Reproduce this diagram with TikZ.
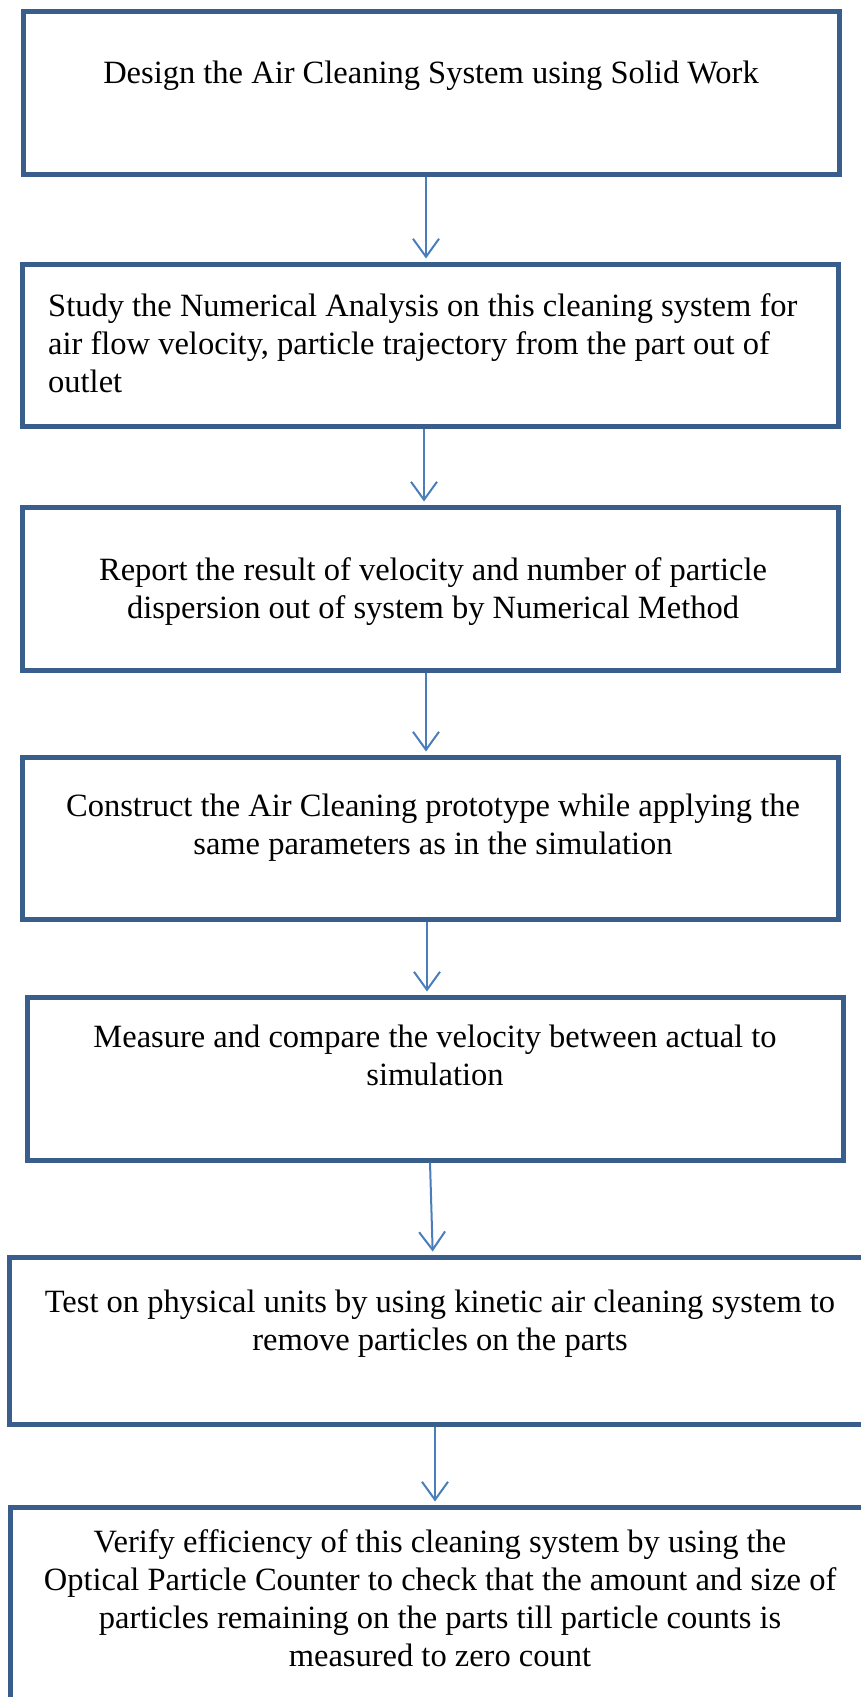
\documentclass[tikz,border=0pt]{standalone}
\usepackage{fontspec}
\setmainfont{Liberation Serif}
\usetikzlibrary{arrows.meta}
\definecolor{boxblue}{HTML}{3A5E8C}
\definecolor{arrblue}{HTML}{4A7EBB}
\tikzset{
  stepbox/.style={draw=boxblue, line width=5pt, rectangle, inner sep=0pt, fill=none},
  txt/.style={inner sep=0pt, font=\fontsize{32.5}{38}\selectfont, text=black},
  arr/.style={draw=arrblue, line width=2pt, -{Straight Barb[length=18pt,width=26pt,line width=2pt]}, shorten >=3pt}
}
\begin{document}
\begin{tikzpicture}[x=1pt,y=-1pt]
\useasboundingbox (0,0) rectangle (861,1697);
\fill[white] (0,0) rectangle (861,1697);
% boxes
\node[stepbox, minimum width=815.5pt, minimum height=163pt] (b1) at (431.25,92.5) {};
\node[stepbox, minimum width=815.5pt, minimum height=162pt] (b2) at (430.25,345) {};
\node[stepbox, minimum width=816pt, minimum height=163pt] (b3) at (430,588.5) {};
\node[stepbox, minimum width=816pt, minimum height=162pt] (b4) at (430,838) {};
\node[stepbox, minimum width=816pt, minimum height=163pt] (b5) at (435,1078.5) {};
\node[stepbox, minimum width=860.5pt, minimum height=167pt] (b6) at (439.75,1340.5) {};
\node[stepbox, minimum width=860pt, minimum height=240pt] (b7) at (440,1627) {};
% texts (anchor = baseline of the last line)
\node[txt, anchor=base] (t1) at (431,83) {Design the Air Cleaning System using Solid Work};
\node[txt, anchor=base west, align=left] (t2) at (48,392) {Study the Numerical Analysis on this cleaning system for\\air flow velocity, particle trajectory from the part out of\\outlet};
\node[txt, anchor=base, align=center] (t3) at (433,618) {Report the result of velocity and number of particle\\dispersion out of system by Numerical Method};
\node[txt, anchor=base, align=center] (t4) at (433,854) {Construct the Air Cleaning prototype while applying the\\same parameters as in the simulation};
\node[txt, anchor=base, align=center] (t5) at (435,1085) {Measure and compare the velocity between actual to\\simulation};
\node[txt, anchor=base, align=center] (t6) at (440,1350) {Test on physical units by using kinetic air cleaning system to\\remove particles on the parts};
\node[txt, anchor=base, align=center] (t7) at (440,1666) {Verify efficiency of this cleaning system by using the\\Optical Particle Counter to check that the amount and size of\\particles remaining on the parts till particle counts is\\measured to zero count};
% connectors
\draw[arr] ([xshift=-5.25pt]b1.south) -- ([xshift=-4.25pt]b2.north);
\draw[arr] ([xshift=-6.25pt]b2.south) -- ([xshift=-6.25pt]b2.south |- b3.north);
\draw[arr] ([xshift=-4pt]b3.south) -- ([xshift=-4pt]b3.south |- b4.north);
\draw[arr] ([xshift=-3pt]b4.south) -- ([xshift=-3pt]b4.south |- b5.north);
\draw[arr] ([xshift=-5pt]b5.south) -- ([xshift=-7pt]b6.north);
\draw[arr] ([xshift=-4.75pt]b6.south) -- ([xshift=-5pt]b7.north);
\end{tikzpicture}
\end{document}
